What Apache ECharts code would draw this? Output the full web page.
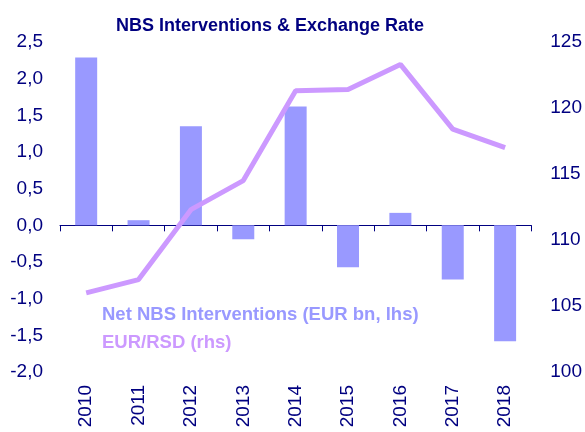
<!DOCTYPE html>
<html>
<head>
    <meta charset="utf-8">
    <script src="https://cdn.jsdelivr.net/npm/echarts@6/dist/echarts.min.js"></script>
    <style type="text/css">
        body { margin: 0; background: #fff; }
    </style>
</head>
<body>
    <div id="main" style="width: 585px;height:432px;"></div>
    <script type="text/javascript">
        // data
        var years = ['2010', '2011', '2012', '2013', '2014', '2015', '2016', '2017', '2018'];
        var interventions = [2.29, 0.07, 1.35, -0.19, 1.62, -0.57, 0.17, -0.74, -1.58];
        var eurRsd = [106.0, 107.0, 112.3, 114.5, 121.3, 121.4, 123.3, 118.4, 117.0];

        var navy = '#000080';
        var font = 'Liberation Sans';
        var barColor = '#9999ff';
        var lineColor = '#cc99ff';

        var myChart = echarts.init(document.getElementById('main'));
        var option = {
            backgroundColor: '#fff',
            animation: false,
            title: {
                text: 'NBS Interventions & Exchange Rate',
                left: 265,
                textAlign: 'center',
                top: 12,
                textStyle: { color: navy, fontFamily: font, fontWeight: 'bold', fontSize: 18 }
            },
            legend: {
                orient: 'vertical',
                left: 91,
                top: 300,
                itemWidth: 0,
                itemHeight: 0,
                itemGap: 9,
                selectedMode: false,
                data: [
                    { name: 'Net NBS Interventions (EUR bn, lhs)', textStyle: { color: barColor } },
                    { name: 'EUR/RSD (rhs)', textStyle: { color: lineColor } }
                ],
                textStyle: { fontFamily: font, fontWeight: 'bold', fontSize: 18.5 }
            },
            grid: { left: 60, right: 50, top: 42, bottom: 60 },
            xAxis: [{
                type: 'category',
                data: years,
                axisLine: { onZero: true, lineStyle: { color: navy, width: 1 } },
                axisTick: { show: true, length: 6, lineStyle: { color: navy } },
                axisLabel: { show: false }
            }, {
                type: 'category',
                data: years,
                position: 'bottom',
                axisLine: { show: false, onZero: false },
                axisTick: { show: false },
                axisLabel: { rotate: 90, margin: 13, color: navy, fontFamily: font, fontSize: 19 }
            }],
            yAxis: [{
                type: 'value',
                min: -2, max: 2.5, interval: 0.5,
                axisLine: { show: false },
                axisTick: { show: false },
                splitLine: { show: false },
                axisLabel: {
                    margin: 17, color: navy, fontFamily: font, fontSize: 19,
                    formatter: function (v) { return v.toFixed(1).replace('.', ','); }
                }
            }, {
                type: 'value',
                min: 100, max: 125, interval: 5,
                axisLine: { show: false },
                axisTick: { show: false },
                splitLine: { show: false },
                axisLabel: { margin: 19, color: navy, fontFamily: font, fontSize: 19 }
            }],
            series: [{
                name: 'Net NBS Interventions (EUR bn, lhs)',
                type: 'bar',
                xAxisIndex: 0,
                yAxisIndex: 0,
                barWidth: '42%',
                itemStyle: { color: barColor },
                data: interventions
            }, {
                name: 'EUR/RSD (rhs)',
                type: 'line',
                xAxisIndex: 0,
                yAxisIndex: 1,
                symbol: 'none',
                lineStyle: { color: lineColor, width: 5 },
                itemStyle: { color: lineColor },
                data: eurRsd
            }]
        };
        myChart.setOption(option);
    </script>
</body>
</html>
